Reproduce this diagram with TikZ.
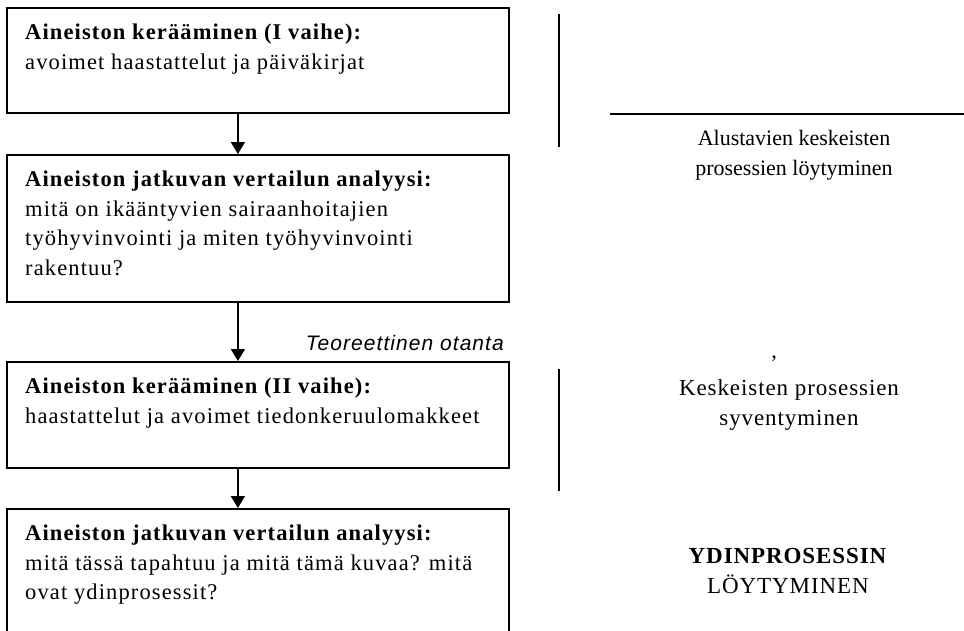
\documentclass[tikz,border=0pt]{standalone}
\usepackage{fontspec}
\setmainfont{Liberation Serif}
\newfontfamily\laatikkofont[LetterSpace=5]{Liberation Serif}
\newfontfamily\tulosfont[LetterSpace=4]{Liberation Serif}
\newfontfamily\otantafont[LetterSpace=5]{Liberation Sans}
\usetikzlibrary{arrows.meta,positioning}

\tikzset{
  vaihebox/.style={draw, line width=1.8pt, minimum width=502pt, inner sep=0pt, anchor=north west},
  vaiheteksti/.style={anchor=north west, inner sep=0pt, align=left, font=\laatikkofont\fontsize{22.5}{29.5}\selectfont},
  tulos/.style={align=center, inner sep=0pt, font=\tulosfont\fontsize{23}{30}\selectfont},
  nuoli/.style={-{Triangle[width=14pt,length=12pt]}, line width=1.8pt},
  raja/.style={line width=1.5pt}
}

\begin{document}
\begin{tikzpicture}[x=1pt,y=-1pt]
\useasboundingbox (0,0) rectangle (964,630);
\clip (0,0) rectangle (964,630);

% vaiheet vasemmalla
\node[vaihebox, minimum height=105pt] (keruu1) at (6,7) {};
\node[vaihebox, minimum height=147pt] (analyysi1) at (6,154) {};
\node[vaihebox, minimum height=106pt] (keruu2) at (6,361) {};
\node[vaihebox, minimum height=140pt] (analyysi2) at (6,508) {};

\node[vaiheteksti] (keruu1teksti) at ([xshift=19pt,yshift=-17pt]keruu1.north west)
  {\textbf{Aineiston kerääminen (I vaihe):}\\avoimet haastattelut ja päiväkirjat};
\node[vaiheteksti] (analyysi1teksti) at ([xshift=19pt,yshift=-17pt]analyysi1.north west)
  {\textbf{Aineiston jatkuvan vertailun analyysi:}\\mitä on ikääntyvien sairaanhoitajien\\työhyvinvointi ja miten työhyvinvointi\\rakentuu?};
\node[vaiheteksti] (keruu2teksti) at ([xshift=19pt,yshift=-17pt]keruu2.north west)
  {\textbf{Aineiston kerääminen (II vaihe):}\\haastattelut ja avoimet tiedonkeruulomakkeet};
\node[vaiheteksti] (analyysi2teksti) at ([xshift=19pt,yshift=-17pt]analyysi2.north west)
  {\textbf{Aineiston jatkuvan vertailun analyysi:}\\mitä tässä tapahtuu ja mitä tämä kuvaa? mitä\\ovat ydinprosessit?};

\draw[nuoli] ([xshift=-20pt]keruu1.south) -- ([xshift=-20pt]analyysi1.north);
\draw[nuoli] ([xshift=-20pt]analyysi1.south) -- ([xshift=-20pt]keruu2.north);
\draw[nuoli] ([xshift=-20pt]keruu2.south) -- ([xshift=-20pt]analyysi2.north);

\node[anchor=base east, inner sep=0pt, font=\otantafont\itshape\fontsize{21}{22}\selectfont] (otanta) at (504,350) {Teoreettinen otanta};

% oikea puoli
\draw[raja] (559,14) -- (559,147);
\draw[raja] (610,114) -- (964,114);
\draw[raja] (559,369) -- (559,491);

\node[tulos, font=\fontsize{22}{30}\selectfont] (alustavat) at (794,155) {Alustavien keskeisten\\prosessien löytyminen};
\node[inner sep=0pt, font=\fontsize{22}{25}\selectfont] (merkki) at (774,363) {’};
\node[tulos] (syventyminen) at (789,405) {Keskeisten prosessien\\syventyminen};
\node[tulos] (ydin) at (788,571) {\textbf{YDINPROSESSIN}\\LÖYTYMINEN};

\end{tikzpicture}
\end{document}
